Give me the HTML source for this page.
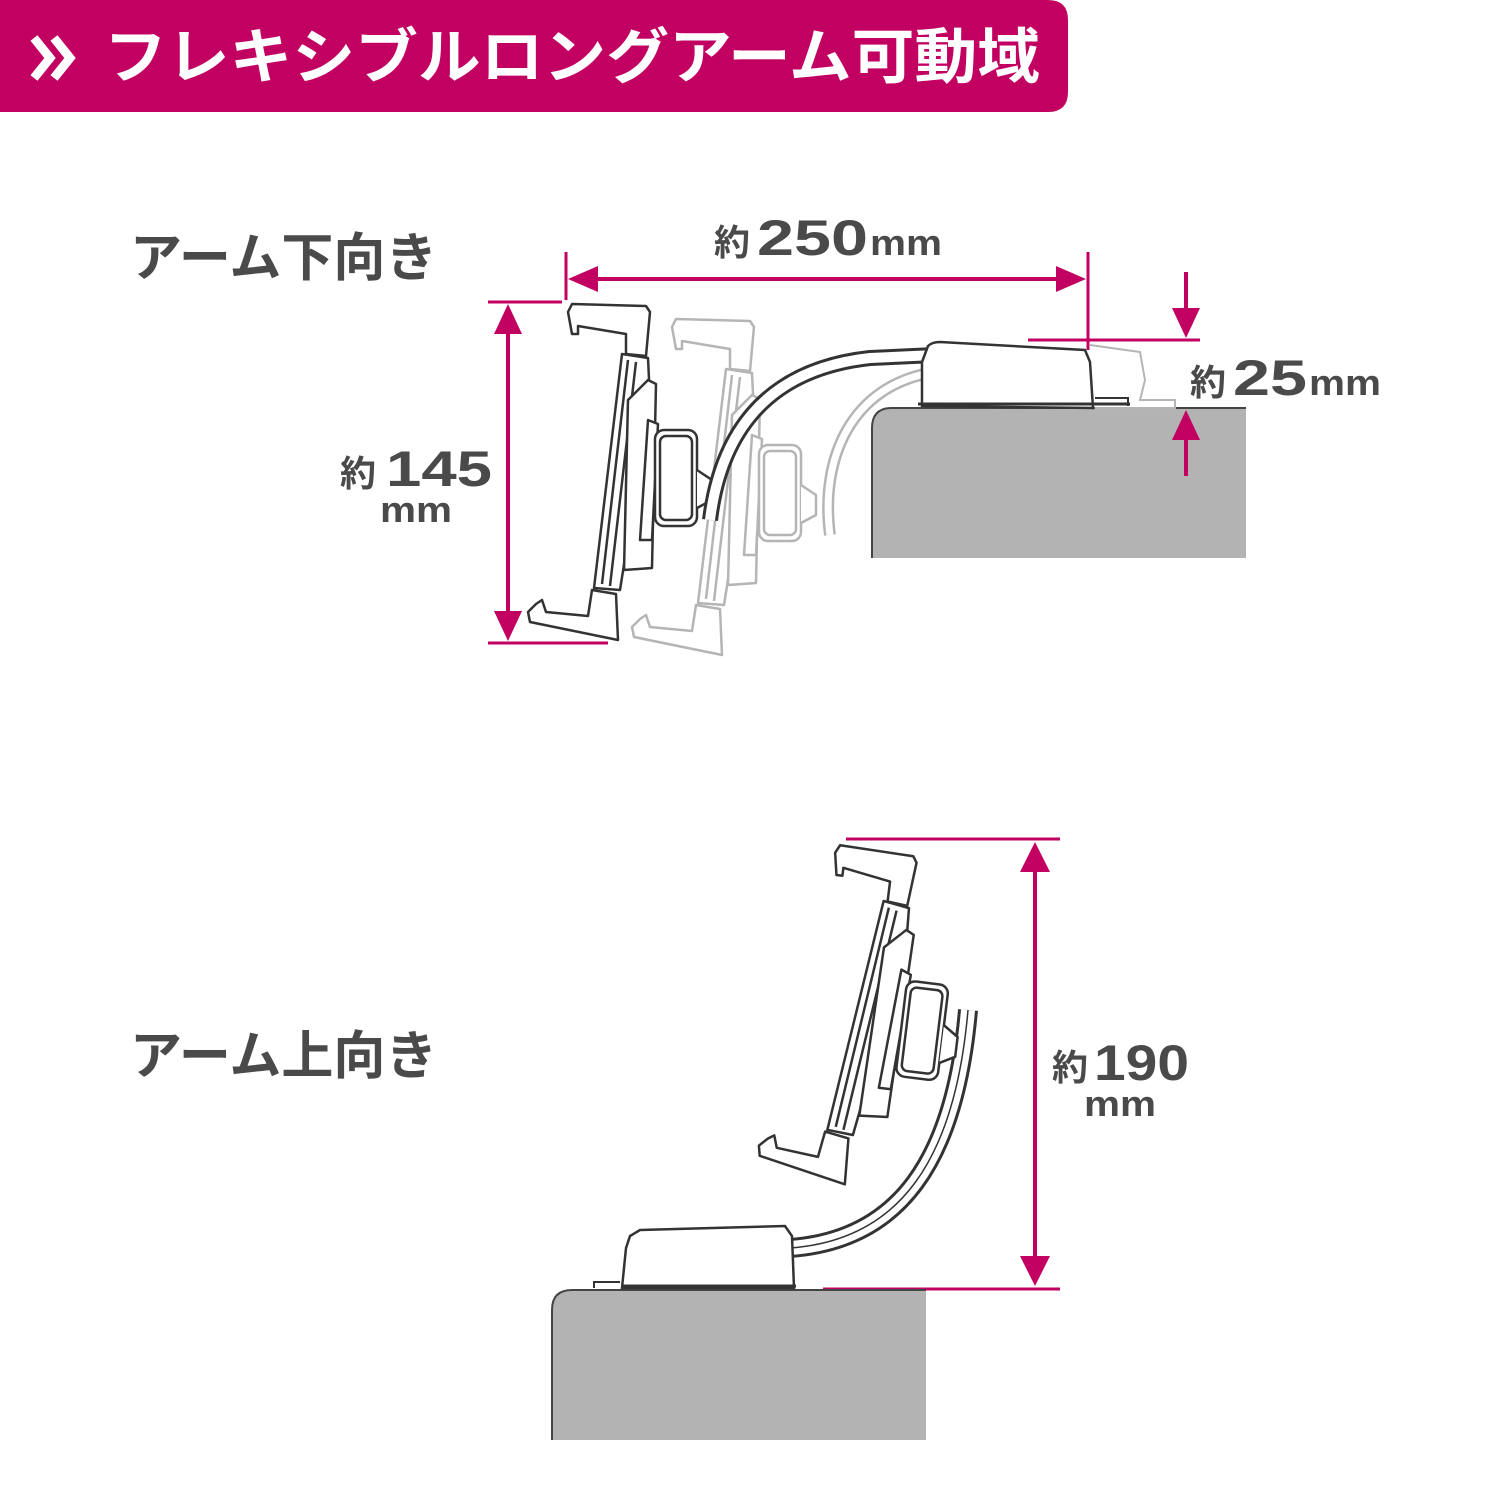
<!DOCTYPE html>
<html><head><meta charset="utf-8"><style>
html,body{margin:0;padding:0;background:#fff;width:1501px;height:1501px;overflow:hidden}
svg{display:block}
text{font-family:"Liberation Sans","Noto Sans CJK JP",sans-serif}
</style></head><body>
<svg width="1501" height="1501" viewBox="0 0 1501 1501" xmlns="http://www.w3.org/2000/svg">
<defs>
<g id="holder" fill="#fff" stroke-width="2.5" stroke-linejoin="round">
  <path d="M572,304 L646,306 L650,312 L646,356 L626,354 L626,334 L578,326 L578,334 L572,334 L568,312 Z"/>
  <path d="M622,354 L648,358 L650,400 L620,590 L594,588 Z"/>
  <path d="M628,360 L602,584 M636,362 L610,586"/>
  <path d="M648,380 L656,384 L652,568 L624,570 L628,400 Z"/>
  <path d="M648,420 L658,424 L652,540 L640,540 Z"/>
  <path d="M592,590 L616,594 L618,640 L530,622 L528,612 L536,604 L542,600 L546,612 L588,616 Z"/>
  <rect x="655" y="430" width="42" height="96" rx="9"/>
  <rect x="660" y="436" width="32" height="84" rx="6"/>
  <path d="M697,470 L712,480 L712,500 L697,508"/>
</g>
</defs>

<path d="M0,0 H1048 Q1068,0 1068,20 V92 Q1068,112 1048,112 H0 Z" fill="#C20062"/>
<path d="M34,38 L50,58 L34,78 M54,38 L70,58 L54,78" fill="none" stroke="#fff" stroke-width="9" stroke-linejoin="miter"/>
<text x="104" y="78" fill="#fff" font-size="60" font-weight="bold" textLength="936" lengthAdjust="spacingAndGlyphs">フレキシブルロングアーム可動域</text>

<text x="130" y="276" fill="#4a4a4a" font-size="52" font-weight="bold">アーム下向き</text>
<text x="130" y="1074" fill="#4a4a4a" font-size="52" font-weight="bold">アーム上向き</text>

<path d="M872,558 V428 Q872,408 892,408 H1246 V558 Z" fill="#b3b3b3"/>
<path d="M872,558 V428 Q872,408 892,408 H1246" fill="none" stroke="#444" stroke-width="2"/>

<g stroke="#b5b5b5"><use href="#holder" transform="translate(104,15)"/></g>
<path d="M830,535 C820,460 850,385 935,372" fill="none" stroke="#b5b5b5" stroke-width="12"/>
<path d="M830,535 C820,460 850,385 935,372" fill="none" stroke="#fff" stroke-width="7"/>
<path d="M1090,345 L1140,352 L1145,380 L1140,400 L1175,400 L1175,408 L1095,408" fill="#fff" stroke="#b5b5b5" stroke-width="2"/>

<g stroke="#333"><use href="#holder"/></g>
<path d="M710,520 C720,440 760,370 870,358 L935,355" fill="none" stroke="#333" stroke-width="16"/>
<path d="M710,520 C720,440 760,370 870,358 L935,355" fill="none" stroke="#fff" stroke-width="10"/>
<path d="M922,406 L922,362 L928,346 Q932,342 940,342 L1085,350 L1090,362 L1093,408 Z" fill="#fff" stroke="#333" stroke-width="2.5"/>
<path d="M918,404 H1130" stroke="#333" stroke-width="3"/>
<path d="M1095,398 H1128 V406" fill="none" stroke="#333" stroke-width="2"/>

<g stroke="#C20062" fill="#C20062">
<line x1="566" y1="252" x2="566" y2="300" stroke-width="3"/>
<line x1="1088" y1="252" x2="1088" y2="350" stroke-width="3"/>
<line x1="595" y1="279" x2="1060" y2="279" stroke-width="4"/>
<path d="M568,279 L598,266 L598,292 Z" stroke="none"/>
<path d="M1086,279 L1056,266 L1056,292 Z" stroke="none"/>
<line x1="488" y1="302" x2="562" y2="302" stroke-width="3"/>
<line x1="488" y1="643" x2="608" y2="643" stroke-width="3"/>
<line x1="508" y1="330" x2="508" y2="615" stroke-width="4"/>
<path d="M508,304 L494,334 L522,334 Z" stroke="none"/>
<path d="M508,641 L494,611 L522,611 Z" stroke="none"/>
<line x1="1028" y1="340" x2="1200" y2="340" stroke-width="3"/>
<line x1="1186" y1="272" x2="1186" y2="312" stroke-width="4"/>
<path d="M1186,338 L1172,308 L1200,308 Z" stroke="none"/>
<line x1="1186" y1="440" x2="1186" y2="476" stroke-width="4"/>
<path d="M1186,410 L1172,440 L1200,440 Z" stroke="none"/>
<line x1="846" y1="839" x2="1060" y2="839" stroke-width="3"/>
<line x1="823" y1="1289" x2="1060" y2="1289" stroke-width="3"/>
<line x1="1035" y1="868" x2="1035" y2="1260" stroke-width="4"/>
<path d="M1035,842 L1020,872 L1050,872 Z" stroke="none"/>
<path d="M1035,1286 L1020,1256 L1050,1256 Z" stroke="none"/>
</g>

<g fill="#4a4a4a" font-weight="bold">
<text x="714" y="255" font-size="36">約</text>
<text x="757" y="255" font-size="50" textLength="111" lengthAdjust="spacingAndGlyphs">250</text>
<text x="870" y="255" font-size="36" textLength="72" lengthAdjust="spacingAndGlyphs">mm</text>
<text x="1190" y="395" font-size="36">約</text>
<text x="1233" y="395" font-size="50" textLength="74" lengthAdjust="spacingAndGlyphs">25</text>
<text x="1309" y="395" font-size="36" textLength="72" lengthAdjust="spacingAndGlyphs">mm</text>
<text x="340" y="486" font-size="36">約</text>
<text x="386" y="486" font-size="50" textLength="106" lengthAdjust="spacingAndGlyphs">145</text>
<text x="380" y="522" font-size="36" textLength="72" lengthAdjust="spacingAndGlyphs">mm</text>
<text x="1052" y="1080" font-size="36">約</text>
<text x="1094" y="1080" font-size="50" textLength="95" lengthAdjust="spacingAndGlyphs">190</text>
<text x="1084" y="1116" font-size="36" textLength="72" lengthAdjust="spacingAndGlyphs">mm</text>
</g>

<path d="M552,1440 V1310 Q552,1290 572,1290 H926 V1440 Z" fill="#b3b3b3"/>
<path d="M552,1440 V1310 Q552,1290 572,1290 H926" fill="none" stroke="#444" stroke-width="2"/>

<path d="M790,1248 C900,1240 955,1160 968,1010" fill="none" stroke="#333" stroke-width="20"/>
<path d="M790,1248 C900,1240 955,1160 968,1010" fill="none" stroke="#fff" stroke-width="14"/>
<path d="M790,1248 C900,1240 955,1160 968,1010" fill="none" stroke="#333" stroke-width="1.5"/>
<g stroke="#333"><use href="#holder" transform="translate(838,846) rotate(7) translate(-570,-305)"/></g>
<path d="M622,1288 L626,1248 L630,1236 L640,1230 L785,1226 L792,1236 L794,1288 Z" fill="#fff" stroke="#333" stroke-width="2.5"/>
<path d="M622,1286 H796" stroke="#333" stroke-width="3"/>
<path d="M594,1288 V1282 H620" fill="none" stroke="#333" stroke-width="2"/>
</svg>
</body></html>
